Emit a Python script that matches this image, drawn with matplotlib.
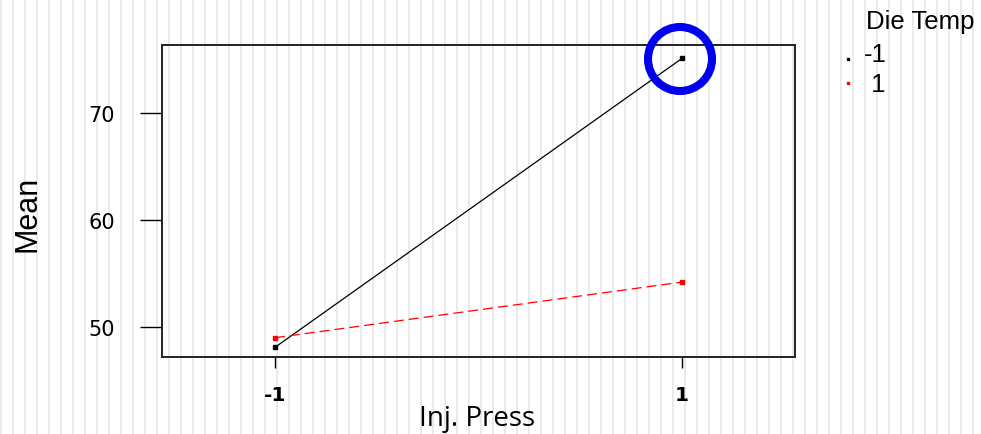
from matplotlib import pyplot as plt
from matplotlib.patches import Ellipse
import numpy as np

# interaction plot: mean response by injection pressure, one line per die temp
inj_press = [-1, 1]
die_temps = ['-1', '1']
means_low = [48.1, 75.1]    # die temp -1
means_high = [49.0, 54.2]   # die temp 1
colors = ['black', 'red']
styles = ['-', '--']

W, H = 981, 435
fig = plt.figure(figsize=(W / 100, H / 100), dpi=100)
fig.patch.set_facecolor('white')

# striped slide background
bg = fig.add_axes([0, 0, 1, 1], zorder=-1)
bg.set_xlim(0, W)
bg.set_ylim(0, H)
bg.vlines(np.arange(1, W, 12), 0, H, color='#e8e8e8', lw=1.3)
bg.axis('off')

ax = fig.add_axes([162 / W, (H - 358) / H, 633 / W, 312 / H])
ax.patch.set_alpha(0)
for series, c, ls in zip([means_low, means_high], colors, styles):
    ax.plot(inj_press, series, color=c, ls=ls, lw=0.9, marker='s', ms=3,
            dashes=(8, 4) if ls == '--' else (None, None))

ax.set_xlim(-1.555, 1.555)
ax.set_ylim(47.2, 76.35)
ax.set_xticks(inj_press)
ax.set_xticklabels(['-1', '1'], fontweight='bold')
ax.set_yticks([50, 60, 70])
ax.tick_params(axis='x', length=8, width=1, pad=12, labelsize=14.5)
ax.tick_params(axis='y', length=16, width=1, pad=18, labelsize=15)
for s in ax.spines.values():
    s.set_linewidth(1.4)
    s.set_color('#222222')

fig.text(419 / W, 1 - 419 / H, 'Inj. Press', fontsize=20, family='Open Sans', va='center')
fig.text(28 / W, 1 - 214 / H, 'Mean', fontsize=22, family='Liberation Sans',
         rotation=90, va='center', ha='center')

# legend
fig.text(866 / W, 1 - 22 / H, 'Die Temp', fontsize=18.5, family='Liberation Sans', va='center')
for i, (lab, c) in enumerate(zip(die_temps, colors)):
    y = 1 - (55 + 30 * i) / H
    fig.text(864 / W, y, lab.rjust(2), fontsize=18.5, family='Liberation Sans', va='center')
    fig.add_artist(plt.Line2D([848 / W], [1 - (60 + 24 * i) / H], marker='s', ms=1.8,
                              color=c, ls=''))

# highlight circle
fig.add_artist(Ellipse((680 / W, 1 - 60 / H), 64 / W, 64 / H, transform=fig.transFigure,
                       fill=False, ec='#0000ee', lw=5.8))

plt.savefig('out.png', dpi=100)
